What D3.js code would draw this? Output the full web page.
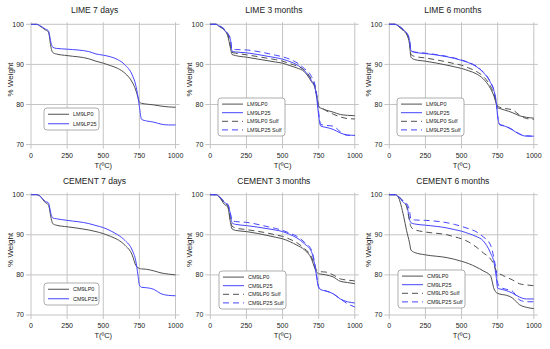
<!DOCTYPE html>
<html>
<head>
<meta charset="utf-8">
<script src="https://cdn.jsdelivr.net/npm/d3@7"></script>
<style>
  body { margin: 0; background: #fff; }
  svg text { font-family: "Liberation Sans", Arial, sans-serif; fill: #222; }
</style>
</head>
<body>
<div id="chart"></div>
<script>
// temperature grid shared by every curve (ºC)
var temps = [0, 40, 60, 100, 120, 140, 150, 175, 250, 400, 450, 500, 550, 600, 650, 700, 725, 740, 750, 765, 800, 850, 900, 950, 1000];

var xTicks = [0, 250, 500, 750, 1000];
var yTicks = [70, 80, 90, 100];

var titles = ["LIME 7 days", "LIME 3 months", "LIME 6 months", "CEMENT 7 days", "CEMENT 3 months", "CEMENT 6 months"];

// LIME 7 days
var lime7LP0  = [100, 100, 99.6, 98.6, 98.1, 94.0, 93.0, 92.6, 92.2, 91.4, 90.8, 90.3, 89.7, 89.0, 87.8, 85.6, 83.6, 81.8, 80.6, 80.3, 80.1, 79.9, 79.6, 79.4, 79.3];
var lime7LP25 = [100, 100, 99.7, 98.8, 98.4, 95.2, 94.3, 94.0, 93.8, 93.2, 92.6, 92.3, 91.9, 91.2, 89.9, 87.4, 84.8, 82.0, 79.5, 76.3, 75.9, 75.6, 75.1, 74.9, 74.9];

// LIME 3 months
var lime3LP0      = [100, 100, 99.5, 98.4, 97.2, 94.0, 92.5, 92.2, 91.8, 90.9, 90.6, 90.3, 89.7, 89.1, 88.2, 85.7, 84.1, 81.5, 79.4, 79.1, 78.6, 78.1, 77.5, 77.3, 77.2];
var lime3LP25     = [100, 100, 99.6, 98.5, 97.6, 96.0, 93.3, 93.1, 92.9, 92.0, 91.7, 91.3, 90.7, 89.9, 88.5, 86.0, 84.1, 80.5, 77.2, 74.6, 74.3, 73.8, 72.9, 72.4, 72.3];
var lime3LP0Sulf  = [100, 100, 99.6, 98.6, 97.6, 94.5, 93.0, 92.8, 92.4, 91.5, 91.2, 90.8, 90.2, 89.6, 88.6, 86.3, 84.4, 81.5, 79.6, 79.3, 78.5, 77.6, 76.9, 76.5, 76.4];
var lime3LP25Sulf = [100, 100, 99.7, 98.7, 97.8, 96.2, 93.8, 93.7, 93.6, 92.7, 92.3, 91.9, 91.3, 90.4, 89.0, 87.0, 84.8, 81.5, 78.0, 75.0, 74.8, 74.6, 73.2, 72.3, 72.3];

// LIME 6 months
var lime6LP0      = [100, 100, 99.6, 98.3, 97.5, 95.0, 91.8, 91.2, 90.8, 89.8, 89.4, 89.0, 88.4, 87.7, 86.4, 84.0, 82.0, 80.2, 79.2, 79.0, 78.6, 78.0, 77.2, 76.8, 76.6];
var lime6LP25     = [100, 100, 99.7, 98.6, 97.8, 96.0, 93.4, 93.0, 92.7, 91.9, 91.5, 91.0, 90.4, 89.5, 88.0, 85.5, 83.3, 80.5, 77.0, 74.9, 74.6, 73.7, 72.6, 72.1, 72.1];
var lime6LP0Sulf  = [100, 100, 99.6, 98.4, 97.6, 95.3, 92.5, 92.0, 91.6, 90.6, 90.2, 89.8, 89.1, 88.3, 87.0, 84.6, 82.5, 80.6, 79.6, 79.3, 79.0, 78.7, 77.4, 76.5, 76.3];
var lime6LP25Sulf = [100, 100, 99.7, 98.6, 97.9, 96.1, 93.5, 93.1, 92.8, 92.0, 91.6, 91.1, 90.5, 89.6, 88.1, 85.6, 83.4, 80.6, 77.1, 75.0, 74.7, 73.8, 72.7, 72.2, 72.1];

// CEMENT 7 days
var cem7LP0  = [100, 100, 99.7, 98.0, 97.5, 94.0, 92.8, 92.4, 92.0, 91.2, 90.8, 90.3, 89.6, 88.8, 87.4, 85.0, 82.4, 81.8, 81.6, 81.5, 81.4, 81.0, 80.5, 80.2, 80.0];
var cem7LP25 = [100, 100, 99.7, 98.3, 98.0, 95.0, 94.2, 94.0, 93.6, 92.8, 92.3, 91.8, 91.0, 90.0, 88.6, 86.2, 83.5, 80.0, 77.5, 76.9, 76.8, 76.4, 75.3, 74.9, 74.8];

// CEMENT 3 months
var cem3LP0      = [100, 100, 99.5, 97.5, 97.0, 93.0, 91.5, 91.1, 90.8, 89.8, 89.4, 89.0, 88.3, 87.4, 86.3, 84.0, 81.5, 80.5, 80.3, 80.2, 80.0, 79.5, 78.4, 78.1, 77.8];
var cem3LP25     = [100, 100, 99.6, 98.0, 97.5, 95.0, 93.0, 92.6, 92.3, 91.5, 91.2, 90.8, 90.1, 89.2, 87.8, 85.8, 82.0, 78.5, 76.8, 76.3, 76.0, 75.3, 74.0, 73.3, 73.0];
var cem3LP0Sulf  = [100, 100, 99.6, 97.8, 97.3, 93.6, 92.2, 91.7, 91.3, 90.4, 90.0, 89.6, 88.9, 88.0, 86.6, 84.5, 82.0, 81.0, 80.9, 80.8, 80.7, 80.0, 79.0, 78.7, 78.5];
var cem3LP25Sulf = [100, 100, 99.6, 98.2, 97.7, 95.3, 93.5, 93.3, 93.1, 92.0, 91.6, 91.1, 90.4, 89.6, 88.2, 86.2, 82.5, 79.0, 77.0, 76.4, 76.0, 75.3, 74.0, 72.8, 72.0];

// CEMENT 6 months
var cem6LP0      = [100, 100, 99.5, 94.5, 91.0, 88.0, 86.2, 85.6, 85.0, 84.3, 83.9, 83.4, 82.8, 82.0, 81.0, 79.8, 76.5, 75.6, 75.4, 75.2, 75.0, 74.3, 72.6, 71.9, 71.6];
var cem6LP25     = [100, 100, 99.6, 98.0, 97.5, 93.8, 93.0, 92.7, 92.4, 91.7, 91.3, 90.9, 90.3, 89.6, 88.5, 85.5, 83.0, 79.5, 76.7, 76.5, 76.2, 75.5, 74.5, 74.0, 74.0];
var cem6LP0Sulf  = [100, 100, 99.6, 98.2, 97.0, 93.5, 92.0, 91.3, 90.7, 90.0, 89.5, 89.0, 88.2, 87.0, 85.5, 84.0, 82.5, 81.0, 80.4, 80.2, 79.6, 78.8, 77.8, 77.5, 77.3];
var cem6LP25Sulf = [100, 100, 99.7, 98.3, 97.8, 96.0, 93.8, 93.7, 93.6, 93.0, 92.6, 92.1, 91.5, 90.8, 89.5, 87.5, 84.0, 81.0, 78.0, 77.0, 76.5, 76.0, 73.8, 73.3, 73.3];

var panelSeries = [
  [["LM9LP0", lime7LP0], ["LM9LP25", lime7LP25]],
  [["LM9LP0", lime3LP0], ["LM9LP25", lime3LP25], ["LM9LP0 Sulf", lime3LP0Sulf], ["LM9LP25 Sulf", lime3LP25Sulf]],
  [["LM9LP0", lime6LP0], ["LM9LP25", lime6LP25], ["LM9LP0 Sulf", lime6LP0Sulf], ["LM9LP25 Sulf", lime6LP25Sulf]],
  [["CM9LP0", cem7LP0], ["CM9LP25", cem7LP25]],
  [["CM9LP0", cem3LP0], ["CM9LP25", cem3LP25], ["CM9LP0 Sulf", cem3LP0Sulf], ["CM9LP25 Sulf", cem3LP25Sulf]],
  [["CM9LP0", cem6LP0], ["CM9LP25", cem6LP25], ["CM9LP0 Sulf", cem6LP0Sulf], ["CM9LP25 Sulf", cem6LP25Sulf]]
];

// styles by series position: solid gray, solid blue, dashed gray, dashed blue
var colors = ["#505050", "#4646ff", "#505050", "#4646ff"];
var dashes = [null, null, "6,4", "6,4"];

// layout
var lefts = [31, 210.3, 389.3];
var tops = [24.3, 194.7];
var plotW = 144.5, plotH = 120.3;
var legendPos = [[13, 83.7], [7.7, 73.7], [7.7, 73.7], [13, 88.3], [8.7, 76.3], [8.7, 75.3]];

var svg = d3.select("#chart").append("svg")
  .attr("width", 550).attr("height", 349);

var x = d3.scaleLinear().domain([0, 1000]).range([0, plotW]);
var y = d3.scaleLinear().domain([70, 100]).range([plotH, 0]);

var line = d3.line()
  .x(function(d) { return x(d[0]); })
  .y(function(d) { return y(d[1]); })
  .curve(d3.curveMonotoneX);

titles.forEach(function(title, p) {
  var g = svg.append("g")
    .attr("transform", "translate(" + lefts[p % 3] + "," + tops[Math.floor(p / 3)] + ")");

  // grid lines, stretched a bit past the frame like the original
  g.selectAll(".hgrid").data(yTicks).enter().append("line")
    .attr("x1", -5).attr("x2", plotW + 4)
    .attr("y1", function(d) { return y(d); }).attr("y2", function(d) { return y(d); })
    .attr("stroke", "#c4c4c4").attr("stroke-width", 1);
  g.selectAll(".vgrid").data(xTicks).enter().append("line")
    .attr("x1", function(d) { return x(d); }).attr("x2", function(d) { return x(d); })
    .attr("y1", -2).attr("y2", plotH + 4)
    .attr("stroke", "#c4c4c4").attr("stroke-width", 1);

  // tick labels
  g.selectAll(".ylab").data(yTicks).enter().append("text")
    .attr("x", -7).attr("y", function(d) { return y(d); })
    .attr("dy", "0.35em").attr("text-anchor", "end")
    .attr("font-size", "7px").text(function(d) { return d; });
  g.selectAll(".xlab").data(xTicks).enter().append("text")
    .attr("x", function(d) { return x(d); }).attr("y", plotH + 10.5)
    .attr("dy", "0.35em").attr("text-anchor", "middle")
    .attr("font-size", "7px").text(function(d) { return d; });

  // axis titles
  g.append("text")
    .attr("x", plotW / 2).attr("y", plotH + 20.5)
    .attr("dy", "0.35em").attr("text-anchor", "middle")
    .attr("font-size", "7.5px").text("T(ºC)");
  g.append("text")
    .attr("transform", "translate(-21," + (plotH / 2 - 5) + ") rotate(-90)")
    .attr("dy", "0.35em").attr("text-anchor", "middle")
    .attr("font-size", "8px").text("% Weight");

  // panel title
  g.append("text")
    .attr("x", plotW / 2 - 8.7).attr("y", p < 3 ? -14.3 : -14)
    .attr("dy", "0.35em").attr("text-anchor", "middle")
    .attr("font-size", "8.5px").text(title);

  // curves
  var series = panelSeries[p];
  series.forEach(function(s, i) {
    g.append("path")
      .datum(temps.map(function(t, k) { return [t, s[1][k]]; }))
      .attr("d", line)
      .attr("fill", "none")
      .attr("stroke", colors[i])
      .attr("stroke-width", 1)
      .attr("stroke-dasharray", dashes[i]);
  });

  // legend
  var rowGap = series.length > 2 ? 8.6 : 9.5;
  var lw = series.length > 2 ? 67 : 55;
  var lh = series.length > 2 ? 38 : 22;
  var lg = g.append("g")
    .attr("transform", "translate(" + legendPos[p][0] + "," + legendPos[p][1] + ")");
  lg.append("rect")
    .attr("width", lw).attr("height", lh).attr("rx", 3)
    .attr("fill", "#fff").attr("stroke", "#9a9a9a").attr("stroke-width", 0.8);
  series.forEach(function(s, i) {
    var ry = (lh - rowGap * (series.length - 1)) / 2 + i * rowGap;
    lg.append("line")
      .attr("x1", 4).attr("x2", 25).attr("y1", ry).attr("y2", ry)
      .attr("stroke", colors[i]).attr("stroke-width", 1)
      .attr("stroke-dasharray", dashes[i]);
    lg.append("text")
      .attr("x", 29).attr("y", ry).attr("dy", "0.35em")
      .attr("font-size", "5.5px").text(s[0]);
  });
});
</script>
</body>
</html>
